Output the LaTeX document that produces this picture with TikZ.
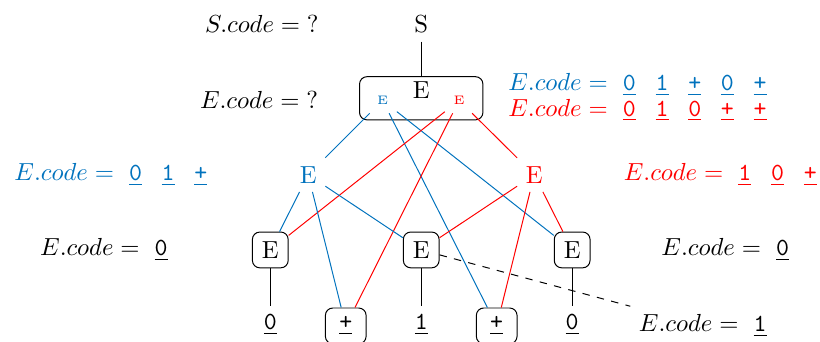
\documentclass[tikz,border=0pt]{standalone}
\usepackage{amsmath}
\usepackage{amssymb}
\usepackage{tikz}

\definecolor{codeblue}{RGB}{0,114,189}
\newcommand{\tok}[1]{\underline{\texttt{#1}}}
\newcommand{\tsep}{\hspace{8pt}}

\begin{document}
\begin{tikzpicture}[
  ebox/.style={draw, rounded corners=3pt, minimum size=14.5pt, inner sep=2pt},
  tbox/.style={ebox, minimum width=16.5pt},
  leaf/.style={anchor=base},
]
\clip (-6,0) rectangle (5.68,4.87);

\node (s) at (0,4.53) {S};
\node[ebox, minimum width=50pt, minimum height=17.5pt] (top) at (0,3.47) {};
\node (topE) at (0,3.58) {E};
\node[codeblue, font=\tiny] (tb) at (-0.55,3.44) {E};
\node[red, font=\tiny] (tr) at (0.54,3.44) {E};

\node[codeblue] (eb) at (-1.61,2.38) {E};
\node[red] (er) at (1.61,2.38) {E};

\node[ebox] (e1) at (-2.15,1.31) {E};
\node[ebox] (e2) at (0,1.31) {E};
\node[ebox] (e3) at (2.15,1.31) {E};

\node[leaf] (z1) at (-2.15,0.17) {\tok{0}};
\node[tbox, leaf] (p1) at (-1.075,0.17) {\tok{+}};
\node[leaf] (o1) at (0,0.17) {\tok{1}};
\node[tbox, leaf] (p2) at (1.075,0.17) {\tok{+}};
\node[leaf] (z2) at (2.15,0.17) {\tok{0}};

\node (ls) at (-2.27,4.53) {$S.code = {?}$};
\node (le) at (-2.31,3.45) {$E.code = {?}$};
\node[codeblue] (lb1) at (3.08,3.66) {$E.code = {}$ \tok{0}\tsep\tok{1}\tsep\tok{+}\tsep\tok{0}\tsep\tok{+}};
\node[red] (lr1) at (3.08,3.30) {$E.code = {}$ \tok{0}\tsep\tok{1}\tsep\tok{0}\tsep\tok{+}\tsep\tok{+}};
\node[codeblue] (lb2) at (-4.42,2.38) {$E.code = {}$ \tok{0}\tsep\tok{1}\tsep\tok{+}};
\node[red] (lr2) at (4.26,2.38) {$E.code = {}$ \tok{1}\tsep\tok{0}\tsep\tok{+}};
\node (lz1) at (-4.52,1.31) {$E.code = {}$ \tok{0}};
\node (lz2) at (4.33,1.31) {$E.code = {}$ \tok{0}};
\node (lo1) at (4.01,0.23) {$E.code = {}$ \tok{1}};

\draw (s) -- (top);
\draw[codeblue] (tb) -- (eb);
\draw[codeblue] (tb) -- (e3);
\draw[codeblue] (tb) -- (p2);
\draw[red] (tr) -- (e1);
\draw[red] (tr) -- (p1);
\draw[red] (tr) -- (er);
\draw[codeblue] (eb) -- (e1);
\draw[codeblue] (eb) -- (p1);
\draw[codeblue] (eb) -- (e2);
\draw[red] (er) -- (e2);
\draw[red] (er) -- (p2);
\draw[red] (er) -- (e3);
\draw (e1) -- (z1);
\draw (e2) -- (o1);
\draw (e3) -- (z2);
\draw[dashed] (e2) -- (lo1);
\end{tikzpicture}
\end{document}
